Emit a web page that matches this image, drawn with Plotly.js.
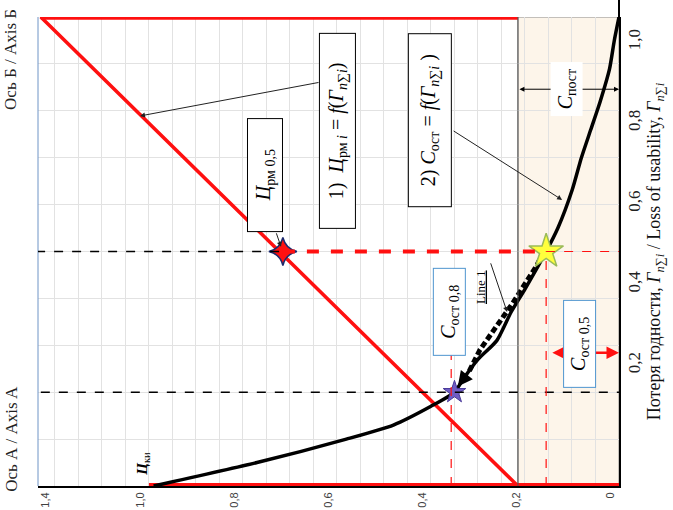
<!DOCTYPE html>
<html>
<head>
<meta charset="utf-8">
<script src="https://cdn.plot.ly/plotly-3.0.1.min.js"></script>
<style>
  html, body { margin: 0; padding: 0; background: #fff; }
  #chart { width: 673px; height: 510px; }
</style>
</head>
<body>
<div id="chart"></div>
<script>
// residual value curve  C_ост = f(Г)
var curveLoss  = [0, 0.05, 0.1, 0.13, 0.17, 0.2, 0.23, 0.27, 0.31, 0.37, 0.42, 0.5, 0.55, 0.63, 0.7, 0.76, 0.82, 0.89, 0.95, 1.0];
var curveValue = [0.99, 0.77, 0.58, 0.48, 0.40, 0.35, 0.33, 0.30, 0.26, 0.23, 0.20, 0.155, 0.13, 0.10, 0.08, 0.06, 0.04, 0.02, 0.01, 0];

// "Line 1" (dashed, close to the curve)
var line1Loss  = [0.5, 0.47, 0.39, 0.34, 0.29, 0.24];
var line1Value = [0.16, 0.175, 0.226, 0.26, 0.296, 0.321];

// price line Ц_рм i = f(Г)
var baseValue = [1.0, 0];
var baseLoss  = [0, 0];
var diagValue = [0.215, 1.23, 0.215];
var diagLoss  = [0, 1, 1];

// marked points
var priceAt05 = [0.715, 0.5];   // Ц_рм 0,5
var restAt05  = [0.155, 0.5];   // С_ост 0,5
var restAt02  = [0.35, 0.2];    // С_ост 0,8
var constPart = 0.215;          // С_пост

var valueTicks = [0, 0.2, 0.4, 0.6, 0.8, 1.0, 1.2];
var valueLabels = ['0', '0,2', '0,4', '0,6', '0,8', '1,0', '1,4'];
var lossTicks = [0.2, 0.4, 0.6, 0.8, 1.0];
var lossLabels = ['0,2', '0,4', '0,6', '0,8', '1,0'];

var RED = '#ff1010';
var SERIF = 'Liberation Serif';

var traces = [
  { x: baseValue, y: baseLoss, mode: 'lines', line: {color: RED, width: 6}, hoverinfo: 'skip' },
  { x: diagValue, y: diagLoss, mode: 'lines', line: {color: RED, width: 3.5}, hoverinfo: 'skip' },
  { x: [diagValue[1], diagValue[2]], y: [diagLoss[1], diagLoss[2]], mode: 'lines', line: {color: RED, width: 5.5}, hoverinfo: 'skip' },
  { x: curveValue, y: curveLoss, mode: 'lines', line: {color: '#000', width: 3.5, shape: 'spline', smoothing: 0.6}, hoverinfo: 'skip' },
  { x: line1Value, y: line1Loss, mode: 'lines', line: {color: '#000', width: 5, dash: '6px,3px'}, hoverinfo: 'skip' },
  { x: [priceAt05[0]], y: [priceAt05[1]], mode: 'markers',
    marker: {symbol: 'star-diamond', size: 20, color: RED, line: {color: '#1b2a6e', width: 1.5}} },
  { x: [restAt05[0]], y: [restAt05[1]], mode: 'markers',
    marker: {symbol: 'star', size: 26, color: '#ffff3c', line: {color: '#9bbb59', width: 1.5}} },
  { x: [restAt02[0]], y: [restAt02[1]], mode: 'markers',
    marker: {symbol: 'star', size: 17, color: '#6f5cc4', line: {color: '#4a3a9a', width: 1}} },
  // carrier for the label axis on the right
  { x: [0], y: [0], yaxis: 'y2', mode: 'markers', marker: {opacity: 0}, hoverinfo: 'skip' }
];

function hline(y, x0, x1, color, width, dash) {
  return {type: 'line', xref: 'x', yref: 'y', x0: x0, x1: x1, y0: y, y1: y,
          line: {color: color, width: width, dash: dash}};
}
function vline(x, y0, y1, color, width, dash) {
  return {type: 'line', xref: 'x', yref: 'y', x0: x, x1: x, y0: y0, y1: y1,
          line: {color: color, width: width, dash: dash}};
}

var shapes = [
  {type: 'rect', xref: 'x', yref: 'y', x0: constPart, x1: 0, y0: 0, y1: 1,
   fillcolor: '#fdf5ea', line: {color: '#8a8a8a', width: 1}, layer: 'below'},
  vline(constPart, 0, 1, '#555', 1, 'solid'),
  {type: 'line', xref: 'paper', yref: 'paper', x0: 0, x1: 0, y0: 0, y1: 1, line: {color: '#6f94c6', width: 1}},
  {type: 'line', xref: 'paper', yref: 'paper', x0: 1, x1: 1, y0: 1, y1: 1.037, line: {color: '#000', width: 2}},
  hline(priceAt05[1], 1.24, priceAt05[0], '#000', 1.5, 'dash'),
  hline(priceAt05[1], priceAt05[0], restAt05[0], RED, 4, 'dash'),
  hline(restAt05[1], restAt05[0], 0, RED, 1, 'dash'),
  hline(restAt02[1], 1.23, 0, '#000', 1.5, 'dash'),
  vline(restAt05[0], 0, restAt05[1], RED, 1.2, 'dash'),
  vline(0.357, 0, 0.28, RED, 1.2, 'dash')
];

function box(x, y, text, w, h, border, size) {
  return {x: x, y: y, xref: 'x', yref: 'y', text: text, showarrow: false, textangle: -90,
          width: w, height: h, bgcolor: '#fff', bordercolor: border, borderwidth: border ? 1 : 0,
          font: {family: SERIF, size: size || 20, color: '#000'}};
}
function arrow(x, y, ax, ay, color, width, both, head) {
  return {x: x, y: y, ax: ax, ay: ay, xref: 'x', yref: 'y', axref: 'x', ayref: 'y', text: '',
          showarrow: true, arrowcolor: color, arrowwidth: width, arrowhead: head || 2,
          arrowsize: 1, arrowside: both ? 'end+start' : 'end', startarrowhead: head || 2};
}
function sideLabel(y, text) {
  return {x: -0.047, y: y, xref: 'paper', yref: 'paper', xanchor: 'center', yanchor: 'middle',
          text: text, textangle: -90, showarrow: false, font: {family: SERIF, size: 17, color: '#222'}};
}

var annotations = [
  sideLabel(0.91, 'Ось Б / Axis Б'),
  sideLabel(0.1, 'Ось А / Axis A'),
  {x: 1.012, y: 0.048, xref: 'x', yref: 'y', text: '<b><i>Ц</i></b><sub>ки</sub>', textangle: -90,
   showarrow: false, font: {family: SERIF, size: 15, color: '#000'}},
  arrow(1.019, 0.789, 0.636, 0.861, '#222', 1),
  arrow(0.719, 0.51, 0.730, 0.542, '#222', 1),
  arrow(0.121, 0.61, 0.355, 0.759, '#222', 1),
  arrow(0.238, 0.371, 0.274, 0.478, '#222', 1),
  arrow(0.343, 0.212, 0.321, 0.241, '#000', 3, false, 2),
  arrow(0, 0.846, constPart, 0.846, '#000', 1, true),
  arrow(0, 0.284, 0.145, 0.284, RED, 2.5, true),
  box(0.753, 0.663, '<i>Ц</i><sub>рм 0,5</sub>', 110, 32, '#000'),
  box(0.598, 0.757, '1)  <i>Ц</i><sub>рм <i>i</i></sub> = <i>f</i>(<i>Г</i><sub><i>n</i>∑<i>i</i></sub>)', 192, 33, '#000'),
  box(0.402, 0.780, '2) <i>С</i><sub>ост</sub> = <i>f</i>(<i>Г</i><sub><i>n</i>∑<i>i</i></sub> )', 170, 40, '#000'),
  box(0.111, 0.846, '<i>С</i><sub>пост</sub>', 52, 30, null),
  box(0.362, 0.371, '<i>С</i><sub>ост 0,8</sub>', 84, 29, '#4f95cf'),
  box(0.083, 0.303, '<i>С</i><sub>ост 0,5</sub>', 84, 29, '#4f95cf'),
  {x: 0.296, y: 0.424, xref: 'x', yref: 'y', text: '<u>Line 1</u>', textangle: -90, showarrow: false,
   font: {family: SERIF, size: 13, color: '#000'}}
];

var layout = {
  width: 673, height: 510,
  margin: {l: 38, r: 54, t: 17, b: 24},
  paper_bgcolor: '#fff', plot_bgcolor: '#fff',
  showlegend: false,
  xaxis: {
    range: [1.236, 0], tickmode: 'array', tickvals: valueTicks, ticktext: valueLabels,
    tickangle: -90, tickfont: {family: 'Liberation Sans', size: 11, color: '#404040'},
    ticks: '', ticklabelshift: 9, showgrid: true, gridcolor: '#e2e2e2',
    minor: {dtick: 0.05, tick0: 0, showgrid: true, gridcolor: '#e2e2e2'},
    showline: true, linecolor: '#000', linewidth: 2, zeroline: false
  },
  yaxis: {
    range: [0, 1], dtick: 0.1, showticklabels: false, ticks: '', side: 'right',
    showgrid: true, gridcolor: '#e2e2e2', showline: true, linecolor: '#000', linewidth: 2, zeroline: false
  },
  yaxis2: {
    overlaying: 'y', side: 'right', range: [-0.099, 1.062],
    tickmode: 'array', tickvals: lossTicks, ticktext: lossLabels, tickangle: -90,
    tickfont: {family: SERIF, size: 17, color: '#222'}, ticks: '', ticklabelstandoff: 3,
    showgrid: false, showline: false, zeroline: false,
    title: {text: 'Потеря годности, <i>Г</i><sub><i>n</i>∑<i>i</i></sub> / Loss of usability, <i>Г</i><sub><i>n</i>∑<i>i</i></sub>',
            font: {family: SERIF, size: 18, color: '#111'}, standoff: 3}
  },
  shapes: shapes,
  annotations: annotations
};

Plotly.newPlot('chart', traces, layout, {displayModeBar: false, staticPlot: true});
</script>
</body>
</html>
